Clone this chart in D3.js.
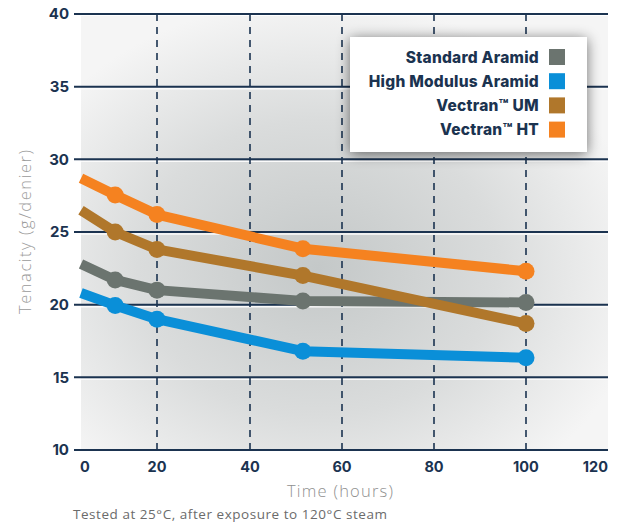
<!DOCTYPE html>
<html><head><meta charset="utf-8">
<script src="https://cdn.jsdelivr.net/npm/d3@7"></script>
<style>
body{margin:0;background:#fff;}
svg{display:block;}
</style></head>
<body><svg id="c" width="626" height="525"></svg>
<script>
// ---- data ----
const hours = [0, 9, 20, 51.5, 100];
const standardAramid = [22.8, 21.7, 21.0, 20.25, 20.15];
const highModulusAramid = [20.8, 19.95, 19.0, 16.8, 16.35];
const vectranUM = [26.5, 25.0, 23.8, 22.0, 18.7];
const vectranHT = [28.7, 27.55, 26.2, 23.85, 22.3];
const seriesNames = ["Standard Aramid", "High Modulus Aramid", "Vectran\u2122 UM", "Vectran\u2122 HT"];
const seriesColors = ["#6b746f", "#0a8fd8", "#b0772b", "#f58220"];
const xTicks = [0, 20, 40, 60, 80, 100, 120];
const yTicks = [10, 15, 20, 25, 30, 35, 40];

const svg = d3.select("#c");
const navy = "#1b3350";

const x = d3.scaleLinear().domain(xTicks).range([81, 157, 250, 342, 434, 526, 608]);
const y = d3.scaleLinear().domain([10, 40]).range([450, 14]);

// background gradient
const defs = svg.append("defs");
const g = defs.append("radialGradient").attr("id", "bg").attr("cx", "45%").attr("cy", "58%").attr("r", "62%");
g.append("stop").attr("offset", "0%").attr("stop-color", "#c4c8c8");
g.append("stop").attr("offset", "55%").attr("stop-color", "#dadcdc");
g.append("stop").attr("offset", "100%").attr("stop-color", "#f5f5f5");
const f = defs.append("filter").attr("id", "sh").attr("x", "-20%").attr("y", "-30%").attr("width", "140%").attr("height", "160%");
f.append("feGaussianBlur").attr("in", "SourceAlpha").attr("stdDeviation", 7);
f.append("feOffset").attr("dx", 0).attr("dy", 2).attr("result", "b");
f.append("feComponentTransfer").append("feFuncA").attr("type", "linear").attr("slope", 0.55);
const fm = f.append("feMerge");
fm.append("feMergeNode");
fm.append("feMergeNode").attr("in", "SourceGraphic");

svg.append("rect").attr("x", x(0)).attr("y", y(40) + 2).attr("width", x(120) - x(0)).attr("height", y(10) - y(40) - 2)
  .attr("fill", "url(#bg)");
// thin white separators below gridlines
svg.append("g").selectAll("line").data(yTicks.slice(1, -1)).join("line")
  .attr("x1", x(0)).attr("x2", x(120)).attr("y1", d => y(d) + 2).attr("y2", d => y(d) + 2)
  .attr("stroke", "#fbfbfb").attr("stroke-width", 1.5);

// vertical dashed gridlines
svg.append("g").selectAll("line").data(xTicks.slice(1, -1)).join("line")
  .attr("x1", d => x(d)).attr("x2", d => x(d)).attr("y1", y(40)).attr("y2", y(10))
  .attr("stroke", navy).attr("stroke-width", 1.6).attr("stroke-dasharray", "7,6");

// horizontal gridlines
svg.append("g").selectAll("line").data(yTicks).join("line")
  .attr("x1", 74).attr("x2", x(120)).attr("y1", d => y(d)).attr("y2", d => y(d))
  .attr("stroke", navy).attr("stroke-width", 2);

// y tick labels
svg.append("g").selectAll("text").data(yTicks).join("text")
  .attr("x", 69).attr("y", d => y(d)).attr("dy", "0.35em").attr("text-anchor", "end")
  .attr("font-family", "Inter, sans-serif").attr("font-weight", 700).attr("font-size", 15)
  .attr("fill", navy).text(d => d);

// x tick labels
svg.append("g").selectAll("text").data(xTicks).join("text")
  .attr("x", d => d === 0 ? x(0) - 1 : d === 120 ? x(120) : x(d))
  .attr("y", 472).attr("text-anchor", d => d === 0 ? "start" : d === 120 ? "end" : "middle")
  .attr("font-family", "Inter, sans-serif").attr("font-weight", 700).attr("font-size", 14.5)
  .attr("fill", navy).text(d => d);

// series
const allSeries = [standardAramid, highModulusAramid, vectranUM, vectranHT];
const line = d3.line().x((d, i) => x(hours[i])).y(d => y(d));
[0, 1, 2, 3].forEach(si => {
  const vals = allSeries[si];
  svg.append("path").datum(vals).attr("d", line).attr("fill", "none")
    .attr("stroke", seriesColors[si]).attr("stroke-width", 10).attr("stroke-linejoin", "round");
  svg.append("g").selectAll("circle").data(vals.slice(1)).join("circle")
    .attr("cx", (d, i) => x(hours[i + 1])).attr("cy", d => y(d)).attr("r", 8.5)
    .attr("fill", seriesColors[si]);
});

// legend
const lg = svg.append("g");
lg.append("rect").attr("x", 350).attr("y", 37).attr("width", 237).attr("height", 115)
  .attr("fill", "#fff").attr("filter", "url(#sh)");
seriesNames.forEach((n, i) => {
  const cy = 57 + i * 24.2;
  lg.append("text").attr("x", 539).attr("y", cy).attr("dy", "0.36em").attr("text-anchor", "end")
    .attr("font-family", "Inter, sans-serif").attr("font-weight", 800).attr("font-size", 15.5)
    .attr("letter-spacing", 0.25)
    .attr("fill", navy).text(n);
  lg.append("rect").attr("x", 549).attr("y", cy - 8).attr("width", 16).attr("height", 16)
    .attr("fill", seriesColors[i]);
});

// axis titles
svg.append("text").attr("transform", "translate(31,232) rotate(-90)").attr("text-anchor", "middle")
  .attr("font-family", "'Open Sans', sans-serif").attr("font-weight", 300).attr("font-size", 16.5)
  .attr("textLength", 164).attr("lengthAdjust", "spacing")
  .attr("fill", "#9a9a9a").text("Tenacity (g/denier)");
svg.append("text").attr("x", 340).attr("y", 497).attr("text-anchor", "middle")
  .attr("font-family", "'Open Sans', sans-serif").attr("font-weight", 300).attr("font-size", 16.5)
  .attr("textLength", 106).attr("lengthAdjust", "spacing")
  .attr("fill", "#8f8f8f").text("Time (hours)");
svg.append("text").attr("x", 73).attr("y", 519)
  .attr("font-family", "'Open Sans', sans-serif").attr("font-weight", 400).attr("font-size", 13.5)
  .attr("textLength", 314).attr("lengthAdjust", "spacing")
  .attr("fill", "#6b6b6b").text("Tested at 25\u00b0C, after exposure to 120\u00b0C steam");
</script></body></html>
